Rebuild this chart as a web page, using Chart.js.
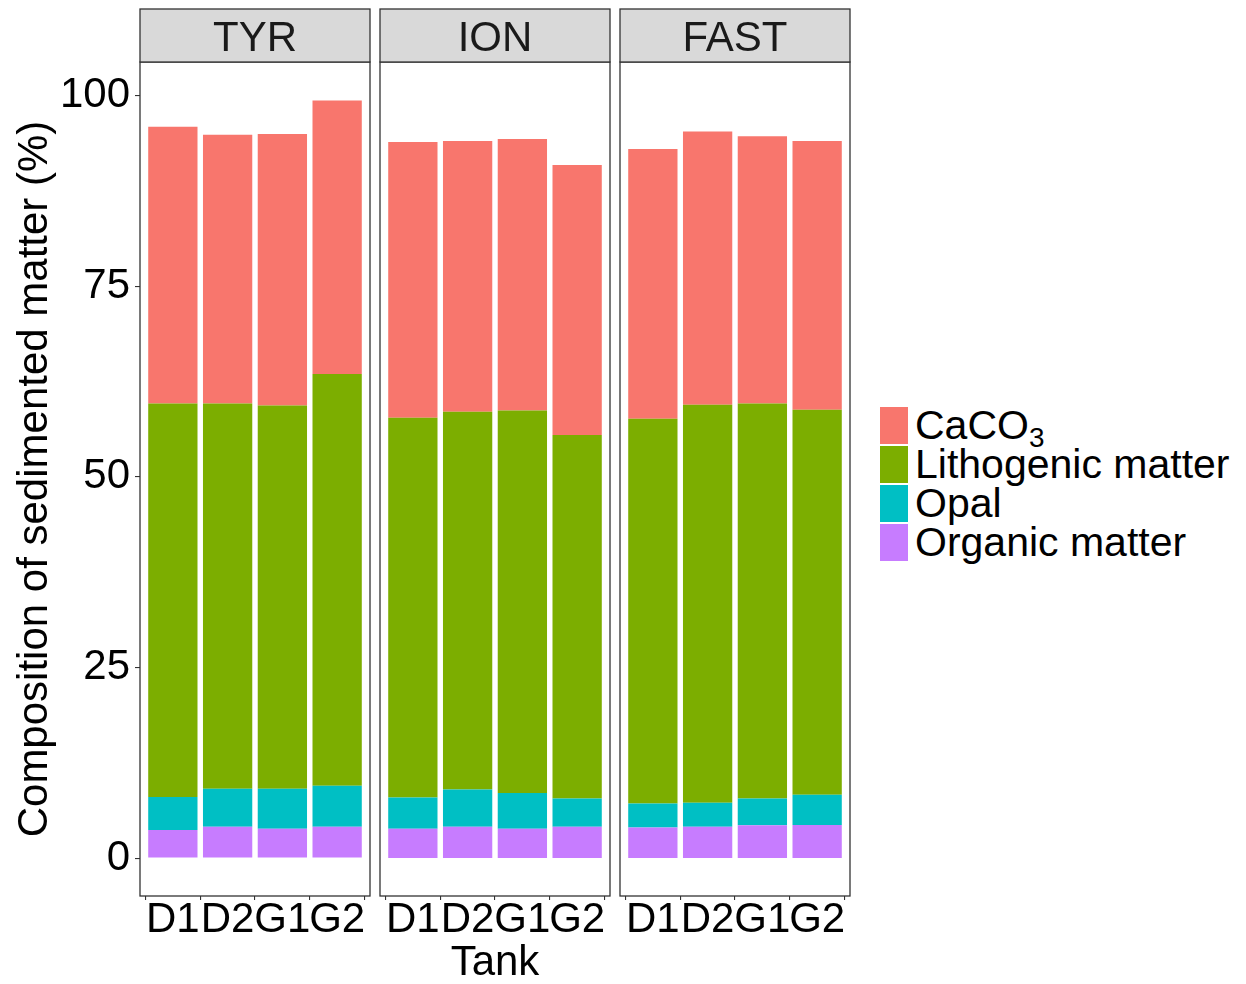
<!DOCTYPE html>
<html><head><meta charset="utf-8">
<script src="https://cdn.jsdelivr.net/npm/chart.js@4.4.1/dist/chart.umd.min.js"></script>
<style>
html,body{margin:0;padding:0;background:#fff;}
body{width:1246px;height:984px;overflow:hidden;position:relative;font-family:"Liberation Sans",Arial,sans-serif;}
canvas{position:absolute;top:0;}
#legend{position:absolute;left:880px;top:406px;}
.row{display:flex;align-items:center;height:39px;}
.key{width:28px;height:37px;flex:none;}
.lab{font-size:41px;line-height:39px;margin-left:7px;color:#000;white-space:nowrap;}
.lab sub{font-size:0.68em;line-height:0;vertical-align:-0.28em;}
</style></head><body>
<canvas id="c0" width="372" height="984" style="left:0px"></canvas>
<canvas id="c1" width="234" height="984" style="left:378px"></canvas>
<canvas id="c2" width="234" height="984" style="left:618px"></canvas>
<div id="legend"></div>
<script>
// ---- data (values in %) ----
const facets = ['TYR', 'ION', 'FAST'];
const tanks = ['D1', 'D2', 'G1', 'G2'];
const yTicks = [0, 25, 50, 75, 100];
// each array: [TYR, ION, FAST], each inner array over tanks D1, D2, G1, G2
const organic = [[3.7, 4.1, 3.85, 4.1], [3.85, 4.1, 3.85, 4.1], [4.0, 4.1, 4.3, 4.35]];
const opal    = [[4.3, 5.0, 5.25, 5.4], [4.1, 4.9, 4.7, 3.7], [3.15, 3.15, 3.5, 3.95]];
const litho   = [[51.6, 50.5, 50.25, 54.0], [49.8, 49.55, 50.15, 47.7], [50.45, 52.2, 51.8, 50.5]];
const caco3   = [[36.3, 35.25, 35.6, 35.85], [36.15, 35.5, 35.6, 35.4], [35.4, 35.85, 35.05, 35.25]];
const seriesNames = ['CaCO3', 'Lithogenic matter', 'Opal', 'Organic matter'];
const seriesColors = ['#F8766D', '#7CAE00', '#00BFC4', '#C77CFF'];
const seriesData = [caco3, litho, opal, organic];

const FONT = '"Liberation Sans", Arial, sans-serif';

const facetPlugin = {
  id: 'facet',
  afterDraw(chart, args, opts) {
    const ctx = chart.ctx;
    const {left, right, top, bottom} = chart.chartArea;
    ctx.save();
    ctx.strokeStyle = '#333333';
    ctx.lineWidth = 1.3;
    ctx.strokeRect(left, top, right - left, bottom - top);
    const st = 9;
    ctx.fillStyle = '#D9D9D9';
    ctx.fillRect(left, st, right - left, top - st);
    ctx.strokeRect(left, st, right - left, top - st);
    ctx.fillStyle = '#1A1A1A';
    ctx.font = '42px ' + FONT;
    ctx.textAlign = 'center';
    ctx.textBaseline = 'alphabetic';
    ctx.fillText(opts.label, (left + right) / 2, 50.5);
    ctx.restore();
  }
};

function makeChart(idx) {
  // stacking order bottom -> top: organic, opal, litho, caco3
  const datasets = [];
  for (let s = seriesData.length - 1; s >= 0; s--) {
    datasets.push({
      label: seriesNames[s],
      data: seriesData[s][idx].map((v, i) => ({x: i, y: v})),
      backgroundColor: seriesColors[s],
      borderWidth: 0,
      barPercentage: 0.9,
      categoryPercentage: 1.0
    });
  }
  const showY = idx === 0;
  return new Chart(document.getElementById('c' + idx), {
    type: 'bar',
    data: {datasets},
    plugins: [facetPlugin],
    options: {
      responsive: false,
      animation: false,
      devicePixelRatio: 1,
      layout: {padding: {top: 62, left: showY ? 0 : 2, right: 2, bottom: 0}},
      plugins: {
        legend: {display: false},
        tooltip: {enabled: false},
        facet: {label: facets[idx]}
      },
      scales: {
        x: {
          type: 'linear',
          min: -0.6, max: 3.6,
          stacked: true,
          offset: false,
          afterBuildTicks: s => { s.ticks = tanks.map((t, i) => ({value: i})); },
          afterFit: s => { s.height = 88; },
          ticks: {
            autoSkip: false, maxRotation: 0, minRotation: 0, padding: 0,
            color: '#000', font: {family: FONT, size: 42, lineHeight: 0.95},
            callback: v => tanks[v]
          },
          grid: {display: true, drawOnChartArea: false, drawTicks: true, tickLength: 4, color: '#333333', lineWidth: 1.1},
          border: {display: false},
          title: {display: idx === 1, text: 'Tank', color: '#000', font: {family: FONT, size: 42, lineHeight: 1}, padding: 0}
        },
        y: {
          display: showY,
          stacked: true,
          min: -4.97, max: 104.4,
          afterBuildTicks: s => { s.ticks = yTicks.map(v => ({value: v})); },
          afterFit: s => { s.width = showY ? 140 : 0; },
          ticks: {padding: 5, color: '#000', font: {family: FONT, size: 42}},
          grid: {display: true, drawOnChartArea: false, drawTicks: true, tickLength: 5, color: '#333333', lineWidth: 1.1},
          border: {display: false},
          title: {display: showY, text: 'Composition of sedimented matter (%)', color: '#000', font: {family: FONT, size: 42, lineHeight: 1}, padding: {top: 14, bottom: 0}}
        }
      }
    }
  });
}
facets.forEach((f, i) => makeChart(i));

// legend built from the same series arrays
const leg = document.getElementById('legend');
seriesNames.forEach((name, s) => {
  const row = document.createElement('div'); row.className = 'row';
  const key = document.createElement('div'); key.className = 'key'; key.style.background = seriesColors[s];
  const lab = document.createElement('div'); lab.className = 'lab';
  const m = name.match(/^(.*?)(\d+)$/);
  if (m) { lab.textContent = m[1]; const sub = document.createElement('sub'); sub.textContent = m[2]; lab.appendChild(sub); }
  else lab.textContent = name;
  row.appendChild(key); row.appendChild(lab); leg.appendChild(row);
});
</script>
</body></html>
